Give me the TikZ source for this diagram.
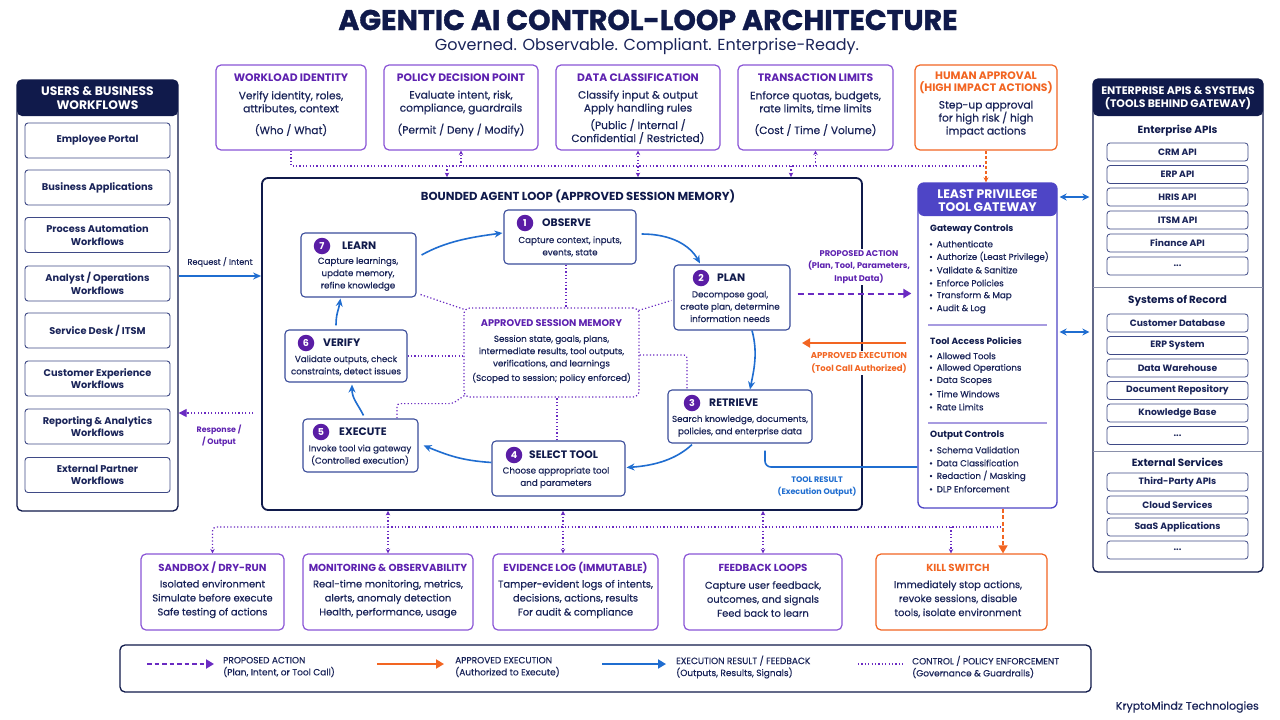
\documentclass[tikz,border=0pt]{standalone}
\usepackage{fontspec}
\setmainfont{Poppins}
\newfontfamily\medf{Poppins}[FakeBold=0.4]
\usetikzlibrary{arrows.meta,positioning,calc}
\definecolor{navy}{HTML}{101A4B}
\definecolor{tnavy}{HTML}{1A2459}
\definecolor{ptitle}{HTML}{5E22B0}
\definecolor{pborder}{HTML}{8A55D6}
\definecolor{orng}{HTML}{F26522}
\definecolor{blu}{HTML}{1F6DD0}
\definecolor{indig}{HTML}{4E45C6}
\definecolor{badgec}{HTML}{5A1DA5}
\definecolor{nborder}{HTML}{3A4C9A}
\definecolor{sepc}{HTML}{A79BE0}
\definecolor{ibord}{HTML}{3F4A86}
\definecolor{dotc}{HTML}{6A2BC2}
\definecolor{grayl}{HTML}{8A90AA}
\begin{document}
\begin{tikzpicture}[x=1pt,y=-1pt,
  rbox/.style={draw, rounded corners=5pt, line width=1.2pt, inner sep=0pt, fill=white},
  topbox/.style={rbox, draw=pborder},
  obox/.style={rbox, draw=orng},
  lnode/.style={rbox, draw=nborder, line width=1.1pt, rounded corners=4pt},
  item/.style={rbox, draw=ibord, line width=0.9pt, rounded corners=3pt, minimum width=145pt, minimum height=35pt, font=\fontsize{9.8}{12.5}\selectfont\bfseries, text=tnavy, align=center},
  ritem/.style={rbox, draw=ibord, line width=0.8pt, rounded corners=3pt, minimum width=141pt, minimum height=18pt, font=\fontsize{9.2}{10}\selectfont\bfseries, text=tnavy},
  hd/.style={inner sep=0pt, font=\fontsize{10.8}{12}\selectfont\bfseries, text=ptitle, align=center},
  ohd/.style={hd, text=orng},
  bhd/.style={hd, font=\fontsize{10.2}{12}\selectfont\bfseries},
  bd/.style={inner sep=0pt, font=\medf\fontsize{10.6}{13}\selectfont, text=tnavy, align=center},
  bbd/.style={inner sep=0pt, font=\medf\fontsize{9.9}{14}\selectfont, text=tnavy, align=center},
  ntitle/.style={inner sep=0pt, anchor=west, font=\fontsize{10.8}{12}\selectfont\bfseries, text=navy},
  badge/.style={circle, fill=badgec, text=white, inner sep=0pt, minimum size=16.5pt, font=\fontsize{9.5}{10}\selectfont\bfseries},
  nbody/.style={inner sep=0pt, font=\medf\fontsize{8.7}{12.3}\selectfont, text=tnavy, align=center},
  ctrl/.style={draw=dotc, line width=1.2pt, dash pattern=on 1.2pt off 2.2pt},
  ctrlar/.style={ctrl, -{Stealth[length=4.5pt,width=4.5pt]}},
  ctrlbi/.style={ctrl, {Stealth[length=4.5pt,width=4.5pt]}-{Stealth[length=4.5pt,width=4.5pt]}},
  flow/.style={draw=blu, line width=1.6pt, -{Stealth[length=8pt,width=7pt]}},
  propose/.style={draw=dotc, line width=2pt, dash pattern=on 6pt off 4pt, -{Triangle[length=8pt,width=9pt]}},
  approve/.style={draw=orng, line width=1.8pt, -{Triangle[length=8pt,width=9pt]}},
  result/.style={draw=blu, line width=1.8pt, -{Triangle[length=8pt,width=9pt]}},
  gsec/.style={inner sep=0pt, anchor=west, font=\fontsize{9}{10}\selectfont\bfseries, text=navy},
  gbul/.style={inner sep=0pt, anchor=west, font=\medf\fontsize{8.7}{9}\selectfont, text=tnavy},
  rsec/.style={inner sep=0pt, font=\fontsize{10.4}{11}\selectfont\bfseries, text=navy},
  lab/.style={inner sep=2pt, font=\fontsize{8.3}{12.3}\selectfont\bfseries, align=center},
  legt/.style={inner sep=0pt, anchor=west, align=left, font=\medf\fontsize{9}{12}\selectfont, text=tnavy}
]
\fill[white] (0,0) rectangle (1280,720);
\useasboundingbox (0,0) rectangle (1280,720);

% ---------- title ----------
\node[inner sep=0pt, font=\fontsize{28.5}{30}\selectfont\bfseries\addfontfeature{FakeBold=1.2}, text=navy] (title) at (648,20) {AGENTIC AI CONTROL-LOOP ARCHITECTURE};
\node[inner sep=0pt, font=\fontsize{16}{18}\selectfont, text=tnavy] (sub) at (647,46) {Governed. Observable. Compliant. Enterprise-Ready.};

% ---------- top boxes ----------
\node[topbox, minimum width=150pt, minimum height=85pt] (wi) at (291,107.5) {};
\node[hd] (wih) at (291,78) {WORKLOAD IDENTITY};
\node[bd] (wib) at (291,102.5) {Verify identity, roles,\\attributes, context};
\node[bd] (wip) at (291,130) {(Who / What)};

\node[topbox, minimum width=154pt, minimum height=85pt] (pdp) at (461,107.5) {};
\node[hd] (pdph) at (461,78) {POLICY DECISION POINT};
\node[bd] (pdpb) at (461,102.5) {Evaluate intent, risk,\\compliance, guardrails};
\node[bd] (pdpp) at (461,130) {(Permit / Deny / Modify)};

\node[topbox, minimum width=164pt, minimum height=85pt] (dc) at (638,107.5) {};
\node[hd] (dch) at (638,78) {DATA CLASSIFICATION};
\node[bd] (dcb) at (638,102.5) {Classify input \& output\\Apply handling rules};
\node[bd] (dcp) at (638,131.5) {(Public / Internal /\\Confidential / Restricted)};

\node[topbox, minimum width=155pt, minimum height=85pt] (tl) at (815.5,107.5) {};
\node[hd] (tlh) at (815.5,78) {TRANSACTION LIMITS};
\node[bd] (tlb) at (815.5,102.5) {Enforce quotas, budgets,\\rate limits, time limits};
\node[bd] (tlp) at (815.5,130) {(Cost / Time / Volume)};

\node[obox, minimum width=142pt, minimum height=85pt] (ha) at (986,107.5) {};
\node[ohd] (hah) at (986,83) {HUMAN APPROVAL\\(HIGH IMPACT ACTIONS)};
\node[bd] (hab) at (986,119) {Step-up approval\\for high risk / high\\impact actions};

% ---------- left panel ----------
\node[rbox, draw=navy, line width=1.3pt, minimum width=161pt, minimum height=431pt,
  path picture={\fill[navy] (path picture bounding box.north west) rectangle ([yshift=-36pt]path picture bounding box.north east);}] (lp) at (97.5,295.5) {};
\node[inner sep=0pt, font=\fontsize{12.3}{13.5}\selectfont\bfseries, text=white, align=center] (lph) at (97.5,98) {USERS \& BUSINESS\\WORKFLOWS};
\node[item] (u1) at (97.5,140.5) {Employee Portal};
\node[item] (u2) at (97.5,187.5) {Business Applications};
\node[item] (u3) at (97.5,235) {Process Automation\\Workflows};
\node[item] (u4) at (97.5,283.5) {Analyst / Operations\\Workflows};
\node[item] (u5) at (97.5,330.5) {Service Desk / ITSM};
\node[item] (u6) at (97.5,378.5) {Customer Experience\\Workflows};
\node[item] (u7) at (97.5,426.5) {Reporting \& Analytics\\Workflows};
\node[item] (u8) at (97.5,475) {External Partner\\Workflows};

% ---------- right panel ----------
\node[rbox, draw=navy, line width=1.3pt, minimum width=170pt, minimum height=493pt,
  path picture={\fill[navy] (path picture bounding box.north west) rectangle ([yshift=-37pt]path picture bounding box.north east);}] (rp) at (1178,325.5) {};
\node[inner sep=0pt, font=\fontsize{10.9}{13}\selectfont\bfseries, text=white, align=center] (rph) at (1178,98.5) {ENTERPRISE APIS \& SYSTEMS\\(TOOLS BEHIND GATEWAY)};
\draw[grayl, line width=0.8pt] (1093,287) -- (1263,287);
\draw[grayl, line width=0.8pt] (1093,451) -- (1263,451);
\node[rsec] (rs1) at (1177.5,131) {Enterprise APIs};
\node[ritem] (r1) at (1177.5,152) {CRM API};
\node[ritem] (r2) at (1177.5,174.5) {ERP API};
\node[ritem] (r3) at (1177.5,197) {HRIS API};
\node[ritem] (r4) at (1177.5,220) {ITSM API};
\node[ritem] (r5) at (1177.5,243) {Finance API};
\node[ritem] (r6) at (1177.5,266) {...};
\node[rsec] (rs2) at (1177.5,301) {Systems of Record};
\node[ritem] (r7) at (1177.5,323) {Customer Database};
\node[ritem] (r8) at (1177.5,345.5) {ERP System};
\node[ritem] (r9) at (1177.5,368) {Data Warehouse};
\node[ritem] (r10) at (1177.5,390.5) {Document Repository};
\node[ritem] (r11) at (1177.5,413) {Knowledge Base};
\node[ritem] (r12) at (1177.5,435.5) {...};
\node[rsec] (rs3) at (1177.5,462) {External Services};
\node[ritem] (r13) at (1177.5,482) {Third-Party APIs};
\node[ritem] (r14) at (1177.5,505) {Cloud Services};
\node[ritem] (r15) at (1177.5,527) {SaaS Applications};
\node[ritem] (r16) at (1177.5,550) {...};

% ---------- loop ----------
\node[rbox, draw=navy, line width=1.8pt, rounded corners=6pt, minimum width=600pt, minimum height=332pt] (loop) at (562,344) {};
\node[inner sep=0pt, font=\fontsize{11.6}{13}\selectfont\bfseries, text=navy] (looph) at (578,196) {BOUNDED AGENT LOOP (APPROVED SESSION MEMORY)};

\node[draw=dotc, line width=1.2pt, dash pattern=on 1.2pt off 2.2pt, rounded corners=6pt, minimum width=175pt, minimum height=89pt, inner sep=0pt] (mem) at (551.5,352.5) {};
\node[inner sep=0pt, font=\fontsize{9.7}{10}\selectfont\bfseries, text=ptitle] (memh) at (551.5,323) {APPROVED SESSION MEMORY};
\node[nbody] (memb) at (551.5,352) {Session state, goals, plans,\\intermediate results, tool outputs,\\verifications, and learnings};
\node[nbody] (mems) at (551.5,378) {(Scoped to session; policy enforced)};

\node[lnode, minimum width=132pt, minimum height=54pt] (observe) at (570,237) {};
\node[lnode, minimum width=116pt, minimum height=65pt] (plan) at (732,297.5) {};
\node[lnode, minimum width=144pt, minimum height=53pt] (retrieve) at (740,416.5) {};
\node[lnode, minimum width=133pt, minimum height=55pt] (select) at (558.5,468.5) {};
\node[lnode, minimum width=115pt, minimum height=53pt] (execute) at (360.5,445.5) {};
\node[lnode, minimum width=122pt, minimum height=52pt] (verify) at (346,356) {};
\node[lnode, minimum width=115pt, minimum height=64pt] (learn) at (358.5,265) {};

\node[badge] (b1) at (525,223) {1}; \node[ntitle] (t1) at (542,223) {OBSERVE};
\node[badge] (b2) at (701,278) {2}; \node[ntitle] (t2) at (717,278) {PLAN};
\node[badge] (b3) at (692,403) {3}; \node[ntitle] (t3) at (709,403) {RETRIEVE};
\node[badge] (b4) at (514,455) {4}; \node[ntitle] (t4) at (529,455) {SELECT TOOL};
\node[badge] (b5) at (321,432) {5}; \node[ntitle] (t5) at (339,432) {EXECUTE};
\node[badge] (b6) at (306,343) {6}; \node[ntitle] (t6) at (323,343) {VERIFY};
\node[badge] (b7) at (322,246) {7}; \node[ntitle] (t7) at (342,246) {LEARN};

\node[nbody] (d1) at (570,246.5) {Capture context, inputs,\\events, state};
\node[nbody] (d2) at (730,306.5) {Decompose goal,\\create plan, determine\\information needs};
\node[nbody] (d3) at (740,426) {Search knowledge, documents,\\policies, and enterprise data};
\node[nbody] (d4) at (556,477.5) {Choose appropriate tool\\and parameters};
\node[nbody] (d5) at (360,455) {Invoke tool via gateway\\(Controlled execution)};
\node[nbody] (d6) at (346,365.5) {Validate outputs, check\\constraints, detect issues};
\node[nbody] (d7) at (358,274) {Capture learnings,\\update memory,\\refine knowledge};

% memory connectors
\draw[ctrl] ([xshift=-4pt]observe.south) -- ([xshift=-4pt]observe.south |- mem.north);
\draw[ctrl] ([shift={(4,-3)}]learn.south east) -- ([shift={(1,2)}]mem.north west);
\draw[ctrl] ([shift={(-1,3)}]mem.north east) -- ([shift={(-2,3)}]plan.west);
\draw[ctrl] (verify.east) -- (verify.east -| mem.west);
\draw[ctrl, rounded corners=3pt] (mem.east |- 0,355) -| ([xshift=-53pt]retrieve.north);
\draw[ctrl] ([xshift=-1.5pt]select.north) -- ([xshift=-1.5pt]select.north |- mem.south);
\draw[ctrl, rounded corners=3pt] ([shift={(1,-2)}]mem.south west) -- ++(-12,8) -| ([xshift=36.5pt]execute.north);

% loop flow
\draw[flow] ([shift={(5,-10)}]learn.east) .. controls +(25,-14) and +(-30,4) .. ([shift={(-1,-4)}]observe.west);
\draw[flow] ([shift={(5,-3)}]observe.east) .. controls +(30,0) and +(-10,-18) .. ([shift={(-32,-1)}]plan.north);
\draw[flow] ([shift={(20,0)}]plan.south) .. controls +(6,22) and +(4,-20) .. ([shift={(10,0)}]retrieve.north);
\draw[flow] ([shift={(-48,1)}]retrieve.south) .. controls +(-15,14) and +(30,-2) .. ([shift={(1,-1)}]select.east);
\draw[flow] ([shift={(0,-6)}]select.west) .. controls +(-30,-2) and +(25,10) .. ([shift={(5,0)}]execute.east);
\draw[flow] ([shift={(3,-3)}]execute.north) .. controls +(-6,-12) and +(0,14) .. ([shift={(6,2)}]verify.south);
\draw[flow] ([shift={(-10,-4)}]verify.north) .. controls +(0,-12) and +(-2,12) .. ([shift={(-18,1)}]learn.south);

% ---------- gateway ----------
\node[rbox, draw=indig, line width=1.3pt, rounded corners=6pt, minimum width=139pt, minimum height=325pt,
  path picture={\fill[indig] (path picture bounding box.north west) rectangle ([yshift=-33pt]path picture bounding box.north east);}] (gw) at (987.5,345.5) {};
\node[inner sep=0pt, font=\fontsize{12.4}{12.5}\selectfont\bfseries, text=white, align=center] (gwh) at (987.5,200.5) {LEAST PRIVILEGE\\TOOL GATEWAY};
\node[gsec] (g1) at (930,229) {Gateway Controls};
\node[gbul] (g1a) at (929,244) {\textbullet\hspace{4pt}Authenticate};
\node[gbul] (g1b) at (929,257) {\textbullet\hspace{4pt}Authorize (Least Privilege)};
\node[gbul] (g1c) at (929,270) {\textbullet\hspace{4pt}Validate \& Sanitize};
\node[gbul] (g1d) at (929,283) {\textbullet\hspace{4pt}Enforce Policies};
\node[gbul] (g1e) at (929,296) {\textbullet\hspace{4pt}Transform \& Map};
\node[gbul] (g1f) at (929,309) {\textbullet\hspace{4pt}Audit \& Log};
\draw[sepc, line width=1.2pt] (928,325) -- (1047,325);
\node[gsec] (g2) at (930,341) {Tool Access Policies};
\node[gbul] (g2a) at (929,356) {\textbullet\hspace{4pt}Allowed Tools};
\node[gbul] (g2b) at (929,368.5) {\textbullet\hspace{4pt}Allowed Operations};
\node[gbul] (g2c) at (929,381) {\textbullet\hspace{4pt}Data Scopes};
\node[gbul] (g2d) at (929,394) {\textbullet\hspace{4pt}Time Windows};
\node[gbul] (g2e) at (929,407) {\textbullet\hspace{4pt}Rate Limits};
\draw[sepc, line width=1.2pt] (928,423) -- (1047,423);
\node[gsec] (g3) at (930,435) {Output Controls};
\node[gbul] (g3a) at (929,450) {\textbullet\hspace{4pt}Schema Validation};
\node[gbul] (g3b) at (929,463) {\textbullet\hspace{4pt}Data Classification};
\node[gbul] (g3c) at (929,476) {\textbullet\hspace{4pt}Redaction / Masking};
\node[gbul] (g3d) at (929,489) {\textbullet\hspace{4pt}DLP Enforcement};

% gateway <-> apis
\draw[blu, line width=1.5pt, {Stealth[length=7pt,width=7pt]}-{Stealth[length=7pt,width=7pt]}] ([shift={(2,-148.5)}]gw.east) -- ([shift={(-3,-128.5)}]rp.west);
\draw[blu, line width=1.5pt, {Stealth[length=7pt,width=7pt]}-{Stealth[length=7pt,width=7pt]}] ([shift={(2,-13.5)}]gw.east) -- ([shift={(-3,6.5)}]rp.west);

% loop <-> gateway
\node[lab, fill=white, text=ptitle] (pa) at (859,267) {PROPOSED ACTION\\(Plan, Tool, Parameters,\\Input Data)};
\node[lab, fill=white, text=orng, font=\fontsize{8.5}{12.3}\selectfont\bfseries] (ae) at (859,363) {APPROVED EXECUTION\\(Tool Call Authorized)};
\node[lab, text=blu, font=\fontsize{8}{12.3}\selectfont\bfseries] (tr) at (817,487) {TOOL RESULT\\(Execution Output)};
\draw[propose] ([shift={(7,-4)}]plan.east) -- ([shift={(-6,-52)}]gw.west);
\coordinate (aeend) at (802,343);
\draw[approve] ([shift={(-11,-2.5)}]gw.west) -- (aeend);
\draw[blu, line width=1.6pt, rounded corners=6pt] ([shift={(25,7)}]retrieve.south) |- ([shift={(0,121.5)}]gw.west);

% users <-> loop
\node[inner sep=0pt, font=\medf\fontsize{8.2}{10}\selectfont, text=tnavy] (req) at (220,262) {Request / Intent};
\draw[flow] (lp.east |- 0,276) -- (loop.west |- 0,276);
\node[inner sep=0pt, font=\fontsize{7.9}{12}\selectfont\bfseries, text=ptitle, align=center] (resp) at (219,436) {Response /\\/ Output};
\draw[ctrl, -{Triangle[length=8pt,width=8pt]}] ($(loop.west |- 0,413)+(-8,0)$) -- (lp.east |- 0,413);

% top governance connectors
\coordinate (th1) at (291,166);
\coordinate (th2) at (985,166);
\draw[ctrl] (wi.south) -- (wi.south |- th1) -- (th2);
\draw[ctrlar] (pdp.south |- th1) -- (pdp.south);
\draw[ctrlbi] (loop.north -| dc.south) -- (dc.south);
\draw[ctrlar] (tl.south |- th1) -- (tl.south);
\draw[ctrlar] (447,166) -- (loop.north -| 447,166);
\draw[ctrlar] (791,166) -- (loop.north -| 791,166);
\draw[orng, line width=1.3pt, dash pattern=on 3pt off 2pt, -{Stealth[length=5pt,width=5pt]}] (ha.south) -- (ha.south |- gw.north);

% ---------- bottom boxes ----------
\node[topbox, minimum width=143pt, minimum height=76pt] (sb) at (212.5,592) {};
\node[bhd] (sbh) at (212.5,568) {SANDBOX / DRY-RUN};
\node[bbd] (sbb) at (212.5,599) {Isolated environment\\Simulate before execute\\Safe testing of actions};

\node[topbox, minimum width=170pt, minimum height=76pt] (mo) at (388,592) {};
\node[bhd] (moh) at (388,568) {MONITORING \& OBSERVABILITY};
\node[bbd] (mob) at (388,599) {Real-time monitoring, metrics,\\alerts, anomaly detection\\Health, performance, usage};

\node[topbox, minimum width=165pt, minimum height=76pt] (ev) at (575.5,592) {};
\node[bhd] (evh) at (575.5,568) {EVIDENCE LOG (IMMUTABLE)};
\node[bbd] (evb) at (575.5,599) {Tamper-evident logs of intents,\\decisions, actions, results\\For audit \& compliance};

\node[topbox, minimum width=158pt, minimum height=76pt] (fb) at (763,592) {};
\node[bhd] (fbh) at (763,568) {FEEDBACK LOOPS};
\node[bbd] (fbb) at (763,599) {Capture user feedback,\\outcomes, and signals\\Feed back to learn};

\node[obox, minimum width=171pt, minimum height=76pt] (ks) at (961.5,592) {};
\node[bhd, text=orng] (ksh) at (958,568) {KILL SWITCH};
\node[bbd] (ksb) at (958,599) {Immediately stop actions,\\revoke sessions, disable\\tools, isolate environment};

% bottom connectors
\coordinate (bh1) at (213,527);
\coordinate (bh2) at (1003,527);
\draw[ctrlar, rounded corners=4pt] (mo.north |- bh1) -| (sb.north);
\draw[ctrl] (mo.north |- bh1) -- (bh2);
\draw[ctrlbi] (loop.south -| mo.north) -- (mo.north);
\draw[ctrlbi] (loop.south -| 563,0) -- ([xshift=-12.5pt]ev.north);
\draw[ctrlbi] (loop.south -| fb.north) -- (fb.north);
\draw[ctrlar] (951,527) -- ([xshift=-10.5pt]ks.north);
\draw[orng, line width=1.5pt, dash pattern=on 4pt off 2.5pt, -{Triangle[length=8pt,width=9pt]}] (gw.south -| 1003,0) -- (ks.north -| 1003,0);

% ---------- legend ----------
\node[rbox, draw=navy, line width=1.3pt, minimum width=971pt, minimum height=47pt] (leg) at (605.5,668.5) {};
\coordinate (l1a) at (147,664); \coordinate (l1b) at (214,664);
\coordinate (l2a) at (377,664); \coordinate (l2b) at (444,664);
\coordinate (l3a) at (602,664); \coordinate (l3b) at (666,664);
\coordinate (l4a) at (858,664); \coordinate (l4b) at (905,664);
\draw[propose, dash pattern=on 4.5pt off 3pt] (l1a) -- (l1b);
\draw[approve] (l2a) -- (l2b);
\draw[result] (l3a) -- (l3b);
\draw[ctrl] (l4a) -- (l4b);
\node[legt] (lt1) at (223,667) {PROPOSED ACTION\\(Plan, Intent, or Tool Call)};
\node[legt] (lt2) at (455,667) {APPROVED EXECUTION\\(Authorized to Execute)};
\node[legt] (lt3) at (676,667) {EXECUTION RESULT / FEEDBACK\\(Outputs, Results, Signals)};
\node[legt] (lt4) at (912,667) {CONTROL / POLICY ENFORCEMENT\\(Governance \& Guardrails)};
\node[inner sep=0pt, anchor=east, font=\medf\fontsize{11}{12}\selectfont, text=tnavy] (credit) at (1259,707) {KryptoMindz Technologies};
\end{tikzpicture}
\end{document}
